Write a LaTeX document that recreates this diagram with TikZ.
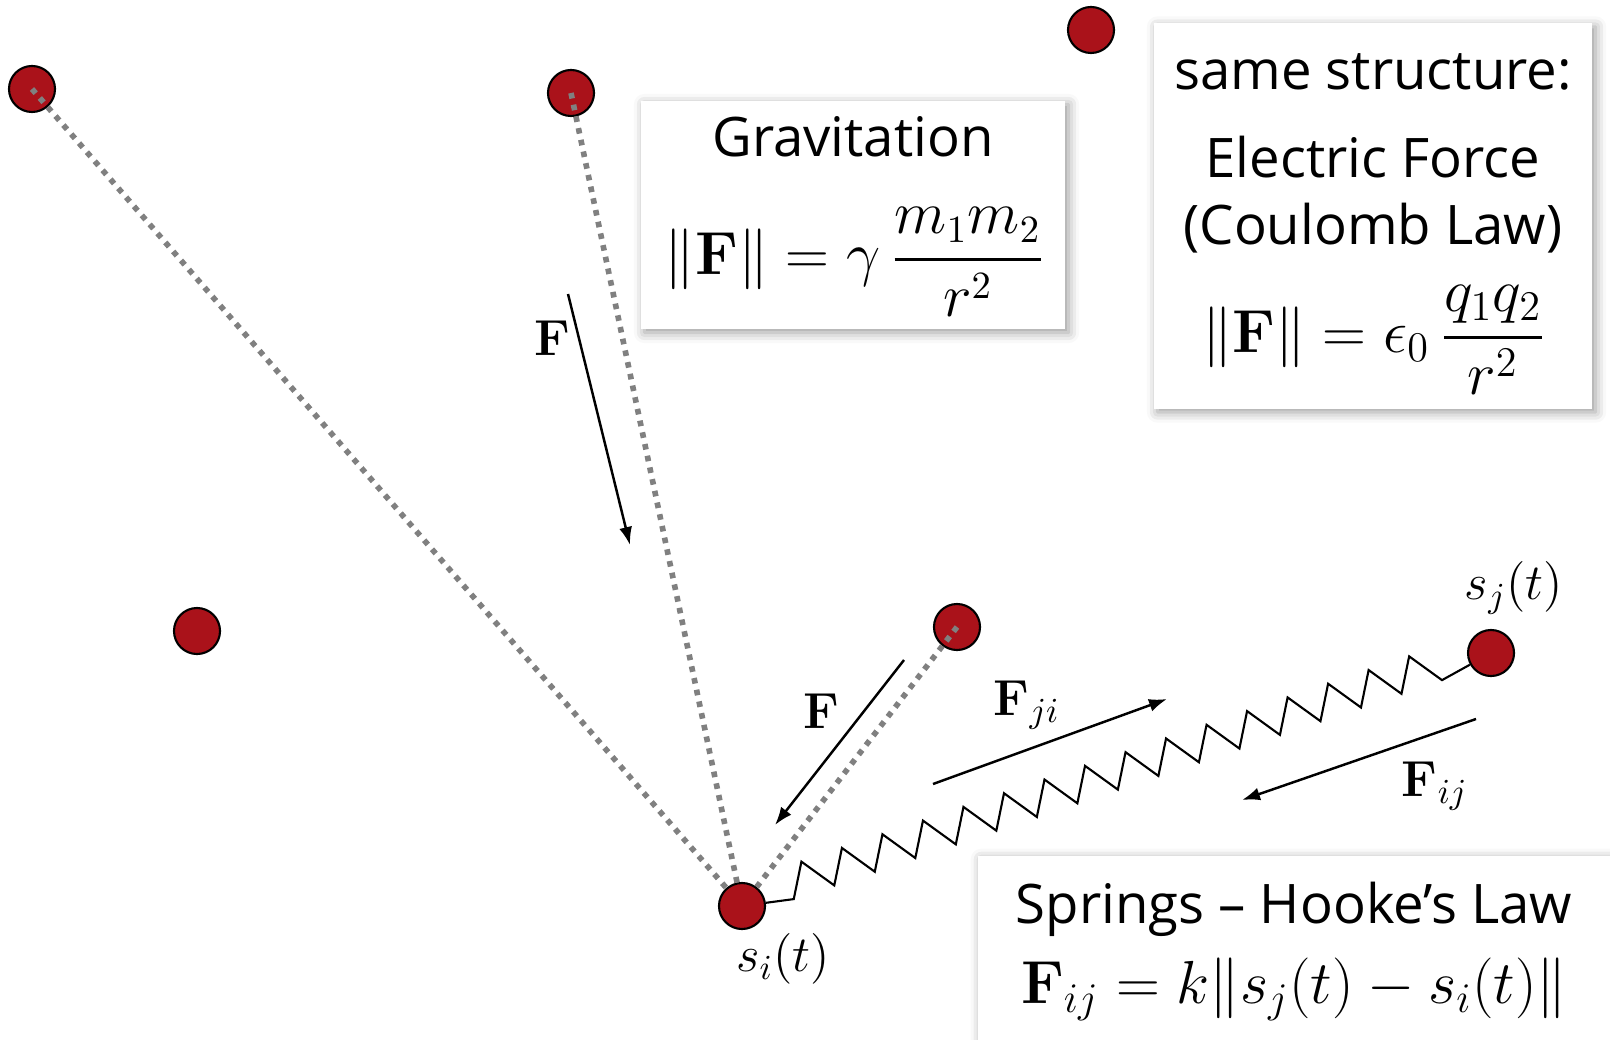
\documentclass[tikz,border=0pt]{standalone}
\usepackage[no-math]{fontspec}
\setmainfont{Open Sans}
\usepackage{amsmath,amssymb}
\usetikzlibrary{arrows.meta,calc,positioning,shadows.blur}
\definecolor{DotRed}{RGB}{170,18,26}
\definecolor{LinkGray}{RGB}{128,128,128}

\begin{document}
\begin{tikzpicture}[x=0.01cm,y=-0.01cm,
  mass/.style={circle,draw=black,line width=0.6pt,fill=DotRed,minimum size=0.46cm,inner sep=0pt},
  link/.style={draw=LinkGray,line width=1.6pt,dash pattern=on 1.6pt off 1.8pt},
  force/.style={-{Latex[length=0.18cm,width=0.13cm]},line width=0.7pt},
  spring/.style={line width=0.6pt,line join=miter},
  panel/.style={rectangle,fill=white,inner sep=0pt,blur shadow={shadow xshift=1pt,shadow yshift=-1pt,shadow blur radius=3pt,shadow opacity=40}},
  txt/.style={font=\fontsize{15.5}{18}\selectfont,inner sep=0pt},
  eq/.style={font=\fontsize{16}{19}\selectfont,inner sep=0pt},
  poslbl/.style={font=\fontsize{14}{17}\selectfont,inner sep=0pt},
  flbl/.style={font=\fontsize{14}{16}\selectfont,inner sep=0pt}
]
  \useasboundingbox (0,0) rectangle (1610,1040);

  % panels
  \node[panel,minimum width=4.24cm,minimum height=2.28cm] (grav) at (853,215) {};
  \node[panel,minimum width=4.38cm,minimum height=3.85cm] (coul) at (1373,216) {};
  \node[panel,minimum width=7cm,minimum height=2.5cm,anchor=north west] (hooke) at (977,855) {};

  % masses
  \node[mass] (m1) at (32,89) {};
  \node[mass] (m2) at (571,93) {};
  \node[mass] (m3) at (1091,30) {};
  \node[mass] (m4) at (197,631) {};
  \node[mass] (m5) at (957,627) {};
  \node[mass] (si) at (742,906) {};
  \node[mass] (sj) at (1491,653) {};

  \draw[link] (m1.center) -- (si);
  \draw[link] (m2.center) -- (si);
  \draw[link] (m5.center) -- (si);

  % spring between s_i and s_j
  \draw[spring] (si) -- ($(si)!0.0648!(sj)!0.1cm!-90:(sj)$)
    \foreach \k in {0,...,15}{
      -- ($(si)!{0.0648+(\k+0.45)*0.0541}!(sj)!0.23cm!90:(sj)$)
      -- ($(si)!{0.0648+(\k+1)*0.0541}!(sj)!0.1cm!-90:(sj)$)
    } -- (sj);

  % forces
  \coordinate (f1a) at (568,294);
  \coordinate (f1b) at (630,545);
  \coordinate (f2a) at (904,660);
  \coordinate (f2b) at (775,825);
  \coordinate (f3a) at (933,784);
  \coordinate (f3b) at (1167,699);
  \coordinate (f4a) at (1476,719);
  \coordinate (f4b) at (1242,800);
  \draw[force] (f1a) -- (f1b);
  \draw[force] (f2a) -- (f2b);
  \draw[force] (f3a) -- (f3b);
  \draw[force] (f4a) -- (f4b);
  \node[flbl] (fl1) at (552,338) {$\mathbf{F}$};
  \node[flbl] (fl2) at (821,711) {$\mathbf{F}$};
  \node[flbl] (fl3) at (1027,705) {$\mathbf{F}_{ji}$};
  \node[flbl] (fl4) at (1435,786) {$\mathbf{F}_{ij}$};

  \node[poslbl] (sil) at (783,959) {$s_i(t)$};
  \node[poslbl] (sjl) at (1514,588) {$s_j(t)$};

  % panel texts
  \node[txt,anchor=base] (gravT) at (853,157) {Gravitation};
  \node[eq] (gravF) at (855,262) {$\displaystyle \|\mathbf{F}\| = \gamma\,\frac{m_1 m_2}{r^2}$};

  \node[txt,anchor=base] (coulA) at (1373,90) {same structure:};
  \node[txt,anchor=base] (coulB) at (1373,178) {Electric Force};
  \node[txt,anchor=base] (coulC) at (1373,245) {(Coulomb Law)};
  \node[eq,font=\fontsize{17}{20}\selectfont] (coulF) at (1374,340) {$\displaystyle \|\mathbf{F}\| = \epsilon_0\,\frac{q_1 q_2}{r^2}$};

  \node[txt,anchor=base] (hookeT) at (1294,923) {Springs -- Hooke’s Law};
  \node[eq,anchor=base,font=\fontsize{16.5}{19}\selectfont] (hookeF) at (1294,1003) {$\mathbf{F}_{ij} = k\|s_j(t) - s_i(t)\|$};
\end{tikzpicture}
\end{document}
